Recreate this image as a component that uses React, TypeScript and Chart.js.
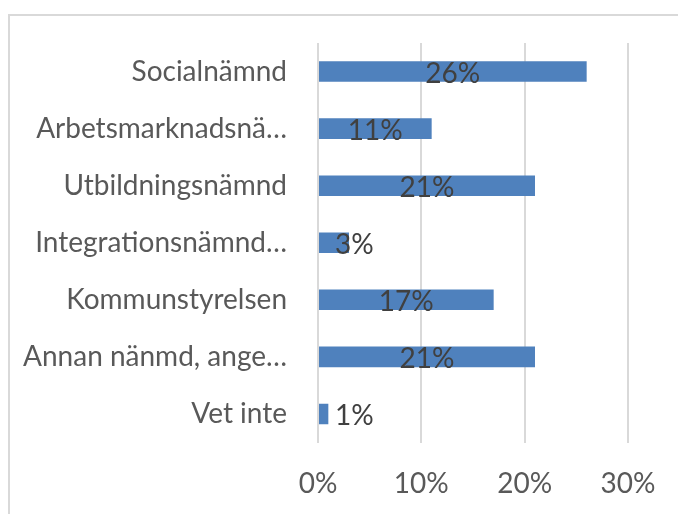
import React, { useEffect, useRef } from "react";
import { Chart, registerables } from "chart.js";

Chart.register(...registerables);

const categories = [
  "Socialnämnd",
  "Arbetsmarknadsnä…",
  "Utbildningsnämnd",
  "Integrationsnämnd…",
  "Kommunstyrelsen",
  "Annan nänmd, ange…",
  "Vet inte",
];
const values = [26, 11, 21, 3, 17, 21, 1];
const xTicks = [0, 10, 20, 30];

const FONT = "Lato, 'Open Sans', sans-serif";
const FONT_SIZE = 28;

const labelPlugin = {
  id: "barLabels",
  afterDatasetsDraw(chart: any) {
    const ctx = chart.ctx;
    const meta = chart.getDatasetMeta(0);
    ctx.save();
    ctx.font = `${FONT_SIZE}px ${FONT}`;
    ctx.fillStyle = "#404040";
    ctx.textBaseline = "middle";
    meta.data.forEach((bar: any, i: number) => {
      const text = `${values[i]}%`;
      const w = ctx.measureText(text).width;
      const len = bar.x - bar.base;
      if (w + 4 < len) {
        ctx.textAlign = "center";
        ctx.fillText(text, (bar.x + bar.base) / 2, bar.y + 2);
      } else {
        ctx.textAlign = "left";
        ctx.fillText(text, bar.base + 16, bar.y + 2);
      }
    });
    ctx.restore();
  },
};

export default function App() {
  const ref = useRef<HTMLCanvasElement | null>(null);
  useEffect(() => {
    if (!ref.current) return;
    const chart = new Chart(ref.current, {
      type: "bar",
      data: {
        labels: categories,
        datasets: [
          {
            data: values,
            backgroundColor: "#4F81BD",
            borderWidth: 0,
            barPercentage: 0.36,
            categoryPercentage: 1,
          },
        ],
      },
      options: {
        indexAxis: "y",
        responsive: false,
        animation: false,
        layout: { padding: { top: 43, right: 50, bottom: 0, left: 0 } },
        plugins: { legend: { display: false }, tooltip: { enabled: false } },
        scales: {
          x: {
            min: 0,
            max: 30,
            afterBuildTicks: (scale: any) => {
              scale.ticks = xTicks.map((v) => ({ value: v }));
            },
            afterFit: (scale: any) => {
              scale.height = 71.5;
              scale.paddingLeft = 0;
              scale.paddingRight = 0;
            },
            grid: { color: "#D9D9D9", lineWidth: 2, drawTicks: false },
            border: { display: false },
            ticks: {
              color: "#595959",
              font: { family: FONT, size: FONT_SIZE },
              padding: 25,
              callback: (v: any) => `${v}%`,
            },
          },
          y: {
            afterFit: (scale: any) => {
              scale.width = 318;
              scale.paddingTop = 0;
              scale.paddingBottom = 0;
            },
            grid: { display: false, drawTicks: false },
            border: { display: false },
            ticks: {
              color: "#595959",
              font: { family: FONT, size: FONT_SIZE },
              padding: 31,
            },
          },
        },
      },
      plugins: [labelPlugin],
    });
    return () => chart.destroy();
  }, []);

  return (
    <div
      style={{
        position: "fixed",
        left: 0,
        top: 0,
        width: 678,
        height: 514,
        overflow: "hidden",
        background: "#fff",
      }}
    >
      <div
        style={{
          position: "absolute",
          left: 8,
          top: 14,
          width: 720,
          height: 600,
          border: "2px solid #D9D9D9",
        }}
      />
      <canvas
        ref={ref}
        width={678}
        height={514}
        style={{ position: "absolute", left: 0, top: 0 }}
      />
    </div>
  );
}
